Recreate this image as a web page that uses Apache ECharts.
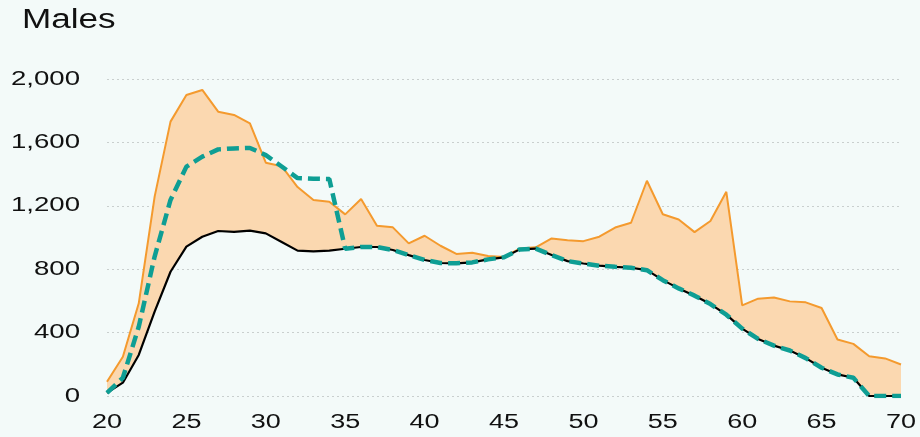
<!DOCTYPE html>
<html>
<head>
<meta charset="utf-8">
<script src="https://cdn.jsdelivr.net/npm/echarts@6/dist/echarts.min.js"></script>
<style>
  html, body { margin: 0; padding: 0; background: #F3FAF9; }
  #chart { width: 920px; height: 437px; }
</style>
</head>
<body>
<div id="chart"></div>
<script>
// Age categories (years)
const ages = [20,21,22,23,24,25,26,27,28,29,30,31,32,33,34,35,36,37,38,39,40,
  41,42,43,44,45,46,47,48,49,50,51,52,53,54,55,56,57,58,59,60,
  61,62,63,64,65,66,67,68,69,70];

// Lower bound (black line)
const lower = [20,84,259,532,784,942,1005,1041,1035,1043,1026,972,917,912,917,929,940,940,921,889,858,
  839,837,843,862,875,925,930,889,851,836,822,815,809,794,731,679,633,580,513,425,
  360,318,287,239,178,136,115,0,0,0];

// Upper bound (orange line)
const upper = [90,248,585,1258,1731,1899,1931,1794,1773,1720,1472,1450,1318,1236,1226,1146,1243,1074,1064,963,1011,
  948,896,904,883,877,930,938,994,983,977,1005,1063,1093,1358,1147,1114,1034,1104,1288,572,
  614,622,597,591,555,356,329,251,237,199];

// Central path (teal dashed line)
const central = [20,115,437,880,1237,1447,1510,1556,1562,1565,1520,1448,1375,1371,1369,929,940,940,921,889,858,
  839,837,843,862,875,925,930,889,851,836,822,815,809,794,731,679,633,580,513,425,
  360,318,287,239,178,136,115,0,0,0];

// Tick labels
const xTickLabels = [20,25,30,35,40,45,50,55,60,65,70];
const yTickValues = [0,400,800,1200,1600,2000];

const band = upper.map((v, i) => v - lower[i]);

const FONT = 'Liberation Sans, Arial, Helvetica, sans-serif';

const chart = echarts.init(document.getElementById('chart'), null, { renderer: 'canvas' });

chart.setOption({
  backgroundColor: '#F3FAF9',
  animation: false,
  grid: { left: 107, right: 19, top: 79, bottom: 41 },
  xAxis: {
    type: 'category',
    data: ages,
    boundaryGap: false,
    axisLine: { show: false },
    axisTick: { show: false },
    axisLabel: { show: false },
    splitLine: { show: false }
  },
  yAxis: {
    type: 'value',
    min: yTickValues[0],
    max: yTickValues[yTickValues.length - 1],
    interval: yTickValues[1] - yTickValues[0],
    axisLine: { show: false },
    axisTick: { show: false },
    axisLabel: { show: false },
    splitLine: { lineStyle: { color: '#C9CFCE', type: [2, 3], width: 1 } }
  },
  series: [
    {
      name: 'base',
      type: 'line',
      stack: 'range',
      data: lower,
      symbol: 'none',
      lineStyle: { width: 0, opacity: 0 },
      silent: true,
      z: 1
    },
    {
      name: 'band',
      type: 'line',
      stack: 'range',
      data: band,
      symbol: 'none',
      lineStyle: { width: 0, opacity: 0 },
      areaStyle: { color: '#FBD8B0', opacity: 1 },
      silent: true,
      z: 1
    },
    {
      name: 'Upper',
      type: 'line',
      data: upper,
      symbol: 'none',
      lineStyle: { color: '#F49A2E', width: 2 },
      z: 2
    },
    {
      name: 'Lower',
      type: 'line',
      data: lower,
      symbol: 'none',
      lineStyle: { color: '#000000', width: 2.2 },
      z: 3
    },
    {
      name: 'Central',
      type: 'line',
      data: central,
      symbol: 'none',
      lineStyle: { color: '#0E9E94', width: 4.5, type: [12, 6] },
      z: 4
    }
  ]
});

// Widened lettering: title plus tick labels placed through the axes' own scales
const texts = [];
texts.push({
  type: 'text', x: 22, y: 7, scaleX: 1.3, silent: true,
  style: { text: 'Males', font: '27px ' + FONT, fill: '#111', align: 'left', verticalAlign: 'top' }
});
yTickValues.forEach(v => {
  const p = chart.convertToPixel({ gridIndex: 0 }, [0, v]);
  texts.push({
    type: 'text', x: p[0] - 27, y: p[1], scaleX: 1.38, silent: true,
    style: { text: v.toLocaleString('en-US'), font: '20px ' + FONT, fill: '#111', align: 'right', verticalAlign: 'middle' }
  });
});
xTickLabels.forEach(a => {
  const p = chart.convertToPixel({ gridIndex: 0 }, [ages.indexOf(a), 0]);
  texts.push({
    type: 'text', x: p[0], y: p[1] + 26, scaleX: 1.35, silent: true,
    style: { text: String(a), font: '20px ' + FONT, fill: '#111', align: 'center', verticalAlign: 'middle' }
  });
});
chart.setOption({ graphic: { elements: texts } });
</script>
</body>
</html>
